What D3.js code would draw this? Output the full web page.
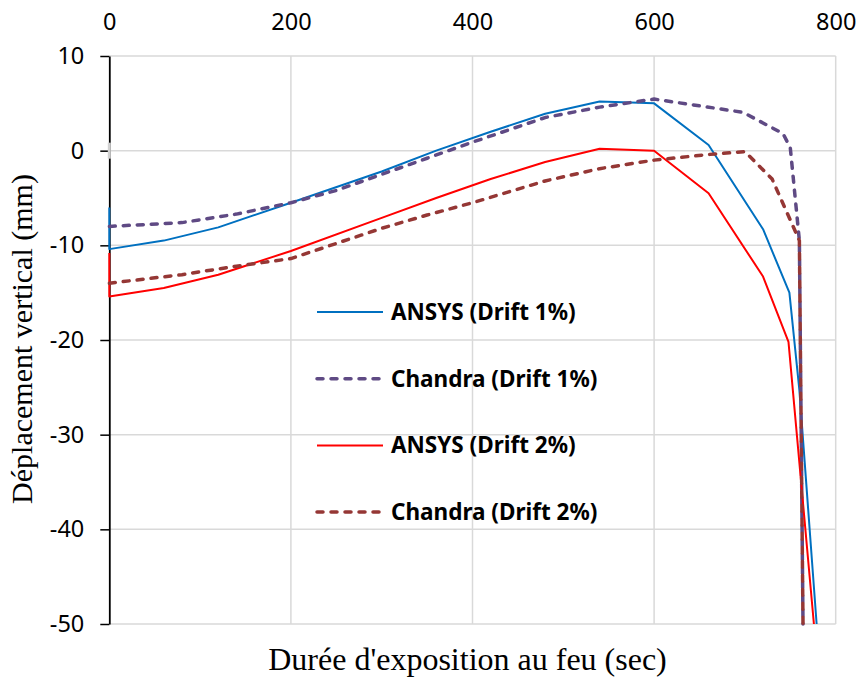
<!DOCTYPE html>
<html>
<head>
<meta charset="utf-8">
<script src="https://cdn.jsdelivr.net/npm/d3@7"></script>
<style>
  body { margin: 0; background: #fff; }
  svg { display: block; }
</style>
</head>
<body>
<svg width="858" height="682"></svg>
<script>
// values (time in sec, displacement in mm)
const ansys1 = [[0,-6],[0,-10.4],[60,-9.5],[120,-8.1],[200,-5.5],[300,-2.2],[360,0],[420,2.0],[480,3.9],[540,5.2],[600,5.0],[660,0.6],[720,-8.3],[749,-15],[760,-25.3],[779,-50]];
const chandra1 = [[0,-8.0],[80,-7.6],[140,-6.7],[200,-5.5],[250,-4.2],[300,-2.5],[350,-0.8],[400,0.9],[480,3.5],[540,4.6],[600,5.45],[698,4.05],[742,1.8],[750,0.3],[760,-9.5],[764,-50]];
const ansys2 = [[0,-10.8],[0,-15.4],[60,-14.5],[120,-13.1],[200,-10.6],[300,-7.1],[360,-5.0],[420,-3.0],[480,-1.2],[540,0.2],[600,0.0],[660,-4.5],[720,-13.3],[748,-20.2],[776,-50]];
const chandra2 = [[0,-14.0],[80,-13.1],[140,-12.2],[200,-11.4],[250,-9.8],[300,-8.2],[350,-6.8],[400,-5.5],[480,-3.2],[540,-1.9],[600,-1.0],[660,-0.4],[700,-0.1],[730,-3.0],[760,-9.5],[764,-50]];

const seriesNames = ['ANSYS (Drift 1%)', 'Chandra (Drift 1%)', 'ANSYS (Drift 2%)', 'Chandra (Drift 2%)'];
const seriesData = [ansys1, chandra1, ansys2, chandra2];
const seriesColors = ['#0070c0', '#5f4a84', '#ff0000', '#953735'];
const seriesDashed = [false, true, false, true];

const xTicks = [0, 200, 400, 600, 800];
const yTicks = [10, 0, -10, -20, -30, -40, -50];

const svg = d3.select('svg');

const margin = { top: 56, left: 109.3, right: 858 - 835.7, bottom: 682 - 624 };
const width = +svg.attr('width') - margin.left - margin.right;
const height = +svg.attr('height') - margin.top - margin.bottom;

const x = d3.scaleLinear().domain([0, 800]).range([0, width]);
const y = d3.scaleLinear().domain([-50, 10]).range([height, 0]);

const g = svg.append('g')
    .attr('transform', `translate(${margin.left},${margin.top})`);

// grid
g.append('g')
  .selectAll('line')
  .data(yTicks)
  .join('line')
    .attr('x1', 0).attr('x2', width)
    .attr('y1', d => y(d)).attr('y2', d => y(d))
    .attr('stroke', '#d9d9d9').attr('stroke-width', 1.5);

g.append('g')
  .selectAll('line')
  .data(xTicks.filter(d => d > 0))
  .join('line')
    .attr('x1', d => x(d)).attr('x2', d => x(d))
    .attr('y1', 0).attr('y2', height)
    .attr('stroke', '#d9d9d9').attr('stroke-width', 1.5);

const fmt = d => String(d); // plain hyphen minus, like the original

// top axis labels only
const xAxis = g.append('g')
    .call(d3.axisTop(x).tickValues(xTicks).tickFormat(fmt).tickSize(0).tickPadding(26));
xAxis.select('.domain').remove();
xAxis.selectAll('text')
    .style('font-family', '"Noto Sans", sans-serif')
    .style('font-size', '23.5px')
    .attr('fill', '#000');

// left axis
const yAxis = g.append('g')
    .call(d3.axisLeft(y).tickValues(yTicks).tickFormat(fmt).tickSize(9).tickPadding(16).tickSizeOuter(0));
yAxis.select('.domain').attr('stroke', '#000').attr('stroke-width', 1.8);
yAxis.selectAll('.tick line').attr('stroke', '#000').attr('stroke-width', 1.5);
yAxis.selectAll('text')
    .style('font-family', '"Noto Sans", sans-serif')
    .style('font-size', '23.5px')
    .attr('fill', '#000');

// small grey break on the axis at zero
g.append('rect')
    .attr('x', -1.5).attr('y', y(0) - 8)
    .attr('width', 3).attr('height', 16)
    .attr('fill', '#d0d0d0');

// series
g.append('clipPath').attr('id', 'plot-clip')
  .append('rect')
    .attr('x', -2).attr('y', -2)
    .attr('width', width + 4).attr('height', height + 4);

const line = d3.line()
    .x(d => x(d[0]))
    .y(d => y(d[1]));

const lines = g.append('g').attr('clip-path', 'url(#plot-clip)');
seriesData.forEach((data, i) => {
  lines.append('path')
      .datum(data)
      .attr('d', line)
      .attr('fill', 'none')
      .attr('stroke', seriesColors[i])
      .attr('stroke-width', seriesDashed[i] ? 3.5 : 2)
      .attr('stroke-dasharray', seriesDashed[i] ? '6,8' : null)
      .attr('stroke-linecap', seriesDashed[i] ? 'round' : 'butt')
      .attr('stroke-linejoin', 'round');
});

// legend
const legend = svg.append('g').attr('transform', 'translate(315,312)');
const legendRow = legend.selectAll('g')
  .data(seriesNames)
  .join('g')
    .attr('transform', (d, i) => `translate(0, ${i * 66.7})`);

legendRow.append('line')
    .attr('x1', 2).attr('x2', 68)
    .attr('stroke', (d, i) => seriesColors[i])
    .attr('stroke-width', (d, i) => seriesDashed[i] ? 3.5 : 2)
    .attr('stroke-dasharray', (d, i) => seriesDashed[i] ? '6,8' : null)
    .attr('stroke-linecap', (d, i) => seriesDashed[i] ? 'round' : 'butt');

legendRow.append('text')
    .attr('x', 76)
    .attr('y', 0)
    .attr('dy', '0.35em')
    .style('font-family', '"Noto Sans", sans-serif')
    .style('font-weight', 'bold')
    .style('font-size', '22.5px')
    .attr('fill', '#000')
    .text(d => d);

// axis titles
svg.append('text')
    .attr('x', margin.left + width / 2 - 5)
    .attr('y', 670)
    .attr('text-anchor', 'middle')
    .style('font-family', '"Liberation Serif", "Times New Roman", serif')
    .style('font-size', '32px')
    .attr('fill', '#000')
    .text("Durée d'exposition au feu (sec)");

svg.append('text')
    .attr('transform', 'translate(32,339) rotate(-90)')
    .attr('text-anchor', 'middle')
    .style('font-family', '"Liberation Serif", "Times New Roman", serif')
    .style('font-size', '30px')
    .attr('fill', '#000')
    .text('Déplacement vertical (mm)');
</script>
</body>
</html>
